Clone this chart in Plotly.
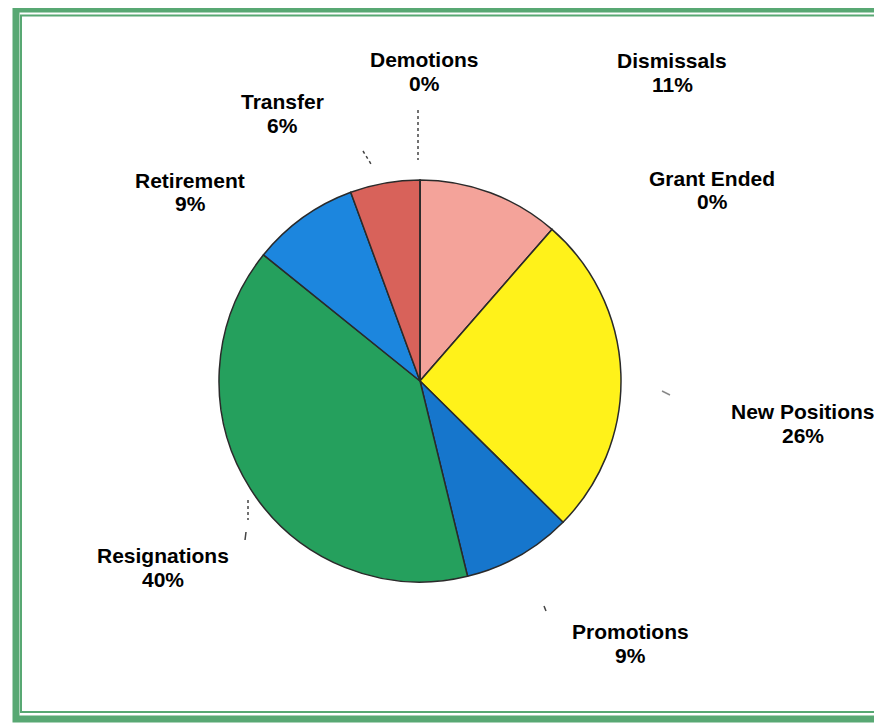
import plotly.graph_objects as go

# ---- data ----
categories = ["Dismissals", "Grant Ended", "New Positions", "Promotions",
              "Resignations", "Retirement", "Transfer", "Demotions"]
values = [11.4, 0.0, 26.0, 8.8, 39.6, 8.6, 5.6, 0.0]

# ---- styles ----
colors = ["#F4A39A", "#F0F0F0", "#FFF21A", "#1676CC",
          "#25A05D", "#1C86DE", "#D8625A", "#CCCCCC"]
# label block centres in window pixels (x, y from top)
label_pos = [(672, 73), (712, 190), (803, 423), (630, 643),
             (163, 567), (190, 192), (282, 114), (424, 72)]

W, H = 882, 723
OFF = 8  # page body margin in the browser


def px(x):
    return (x - OFF) / W


def py(y):
    return 1 - (y - OFF) / H


total = sum(values)
pcts = [round(v / total * 100) for v in values]

fig = go.Figure()
fig.add_trace(go.Pie(
    labels=categories, values=values, sort=False, direction="clockwise",
    rotation=0, textinfo="none", hoverinfo="label+percent",
    marker=dict(colors=colors, line=dict(color="#2a2a2a", width=1.5)),
    domain=dict(x=[px(218), px(622)], y=[py(582), py(180)]),
    showlegend=False,
))

font = dict(family="Liberation Sans, Arial, sans-serif", size=21, color="#000000")
for name, p, (lx, ly) in zip(categories, pcts, label_pos):
    fig.add_annotation(x=px(lx), y=py(ly - 12), xref="paper", yref="paper",
                       text=f"<b>{name}</b>", showarrow=False, font=font,
                       xanchor="center", yanchor="middle")
    fig.add_annotation(x=px(lx), y=py(ly + 12), xref="paper", yref="paper",
                       text=f"<b>{p}%</b>", showarrow=False, font=font,
                       xanchor="center", yanchor="middle")

green = "#58A873"


def seg(x0, y0, x1, y1, color="#444444", dash=None):
    return dict(type="line", xref="paper", yref="paper",
                x0=px(x0), x1=px(x1), y0=py(y0), y1=py(y1),
                line=dict(color=color, width=1.5, dash=dash))


shapes = [
    dict(type="rect", xref="paper", yref="paper",
         x0=px(16), x1=px(930), y0=py(719), y1=py(9),
         line=dict(color=green, width=7)),
    dict(type="rect", xref="paper", yref="paper",
         x0=px(21), x1=px(925), y0=py(712), y1=py(15.5),
         line=dict(color=green, width=2)),
    seg(418, 110, 418, 160, dash="dot"),
    seg(363, 151, 371, 164, dash="dot"),
    seg(248, 500, 248, 520, dash="dot"),
    seg(246, 532, 245, 540),
    seg(544, 606, 546, 611),
    seg(662, 391, 670, 395, color="#888888"),
]

fig.update_layout(
    width=W, height=H, margin=dict(l=0, r=0, t=0, b=0),
    paper_bgcolor="white", plot_bgcolor="white",
    shapes=shapes,
)

fig.write_html("out.html")
